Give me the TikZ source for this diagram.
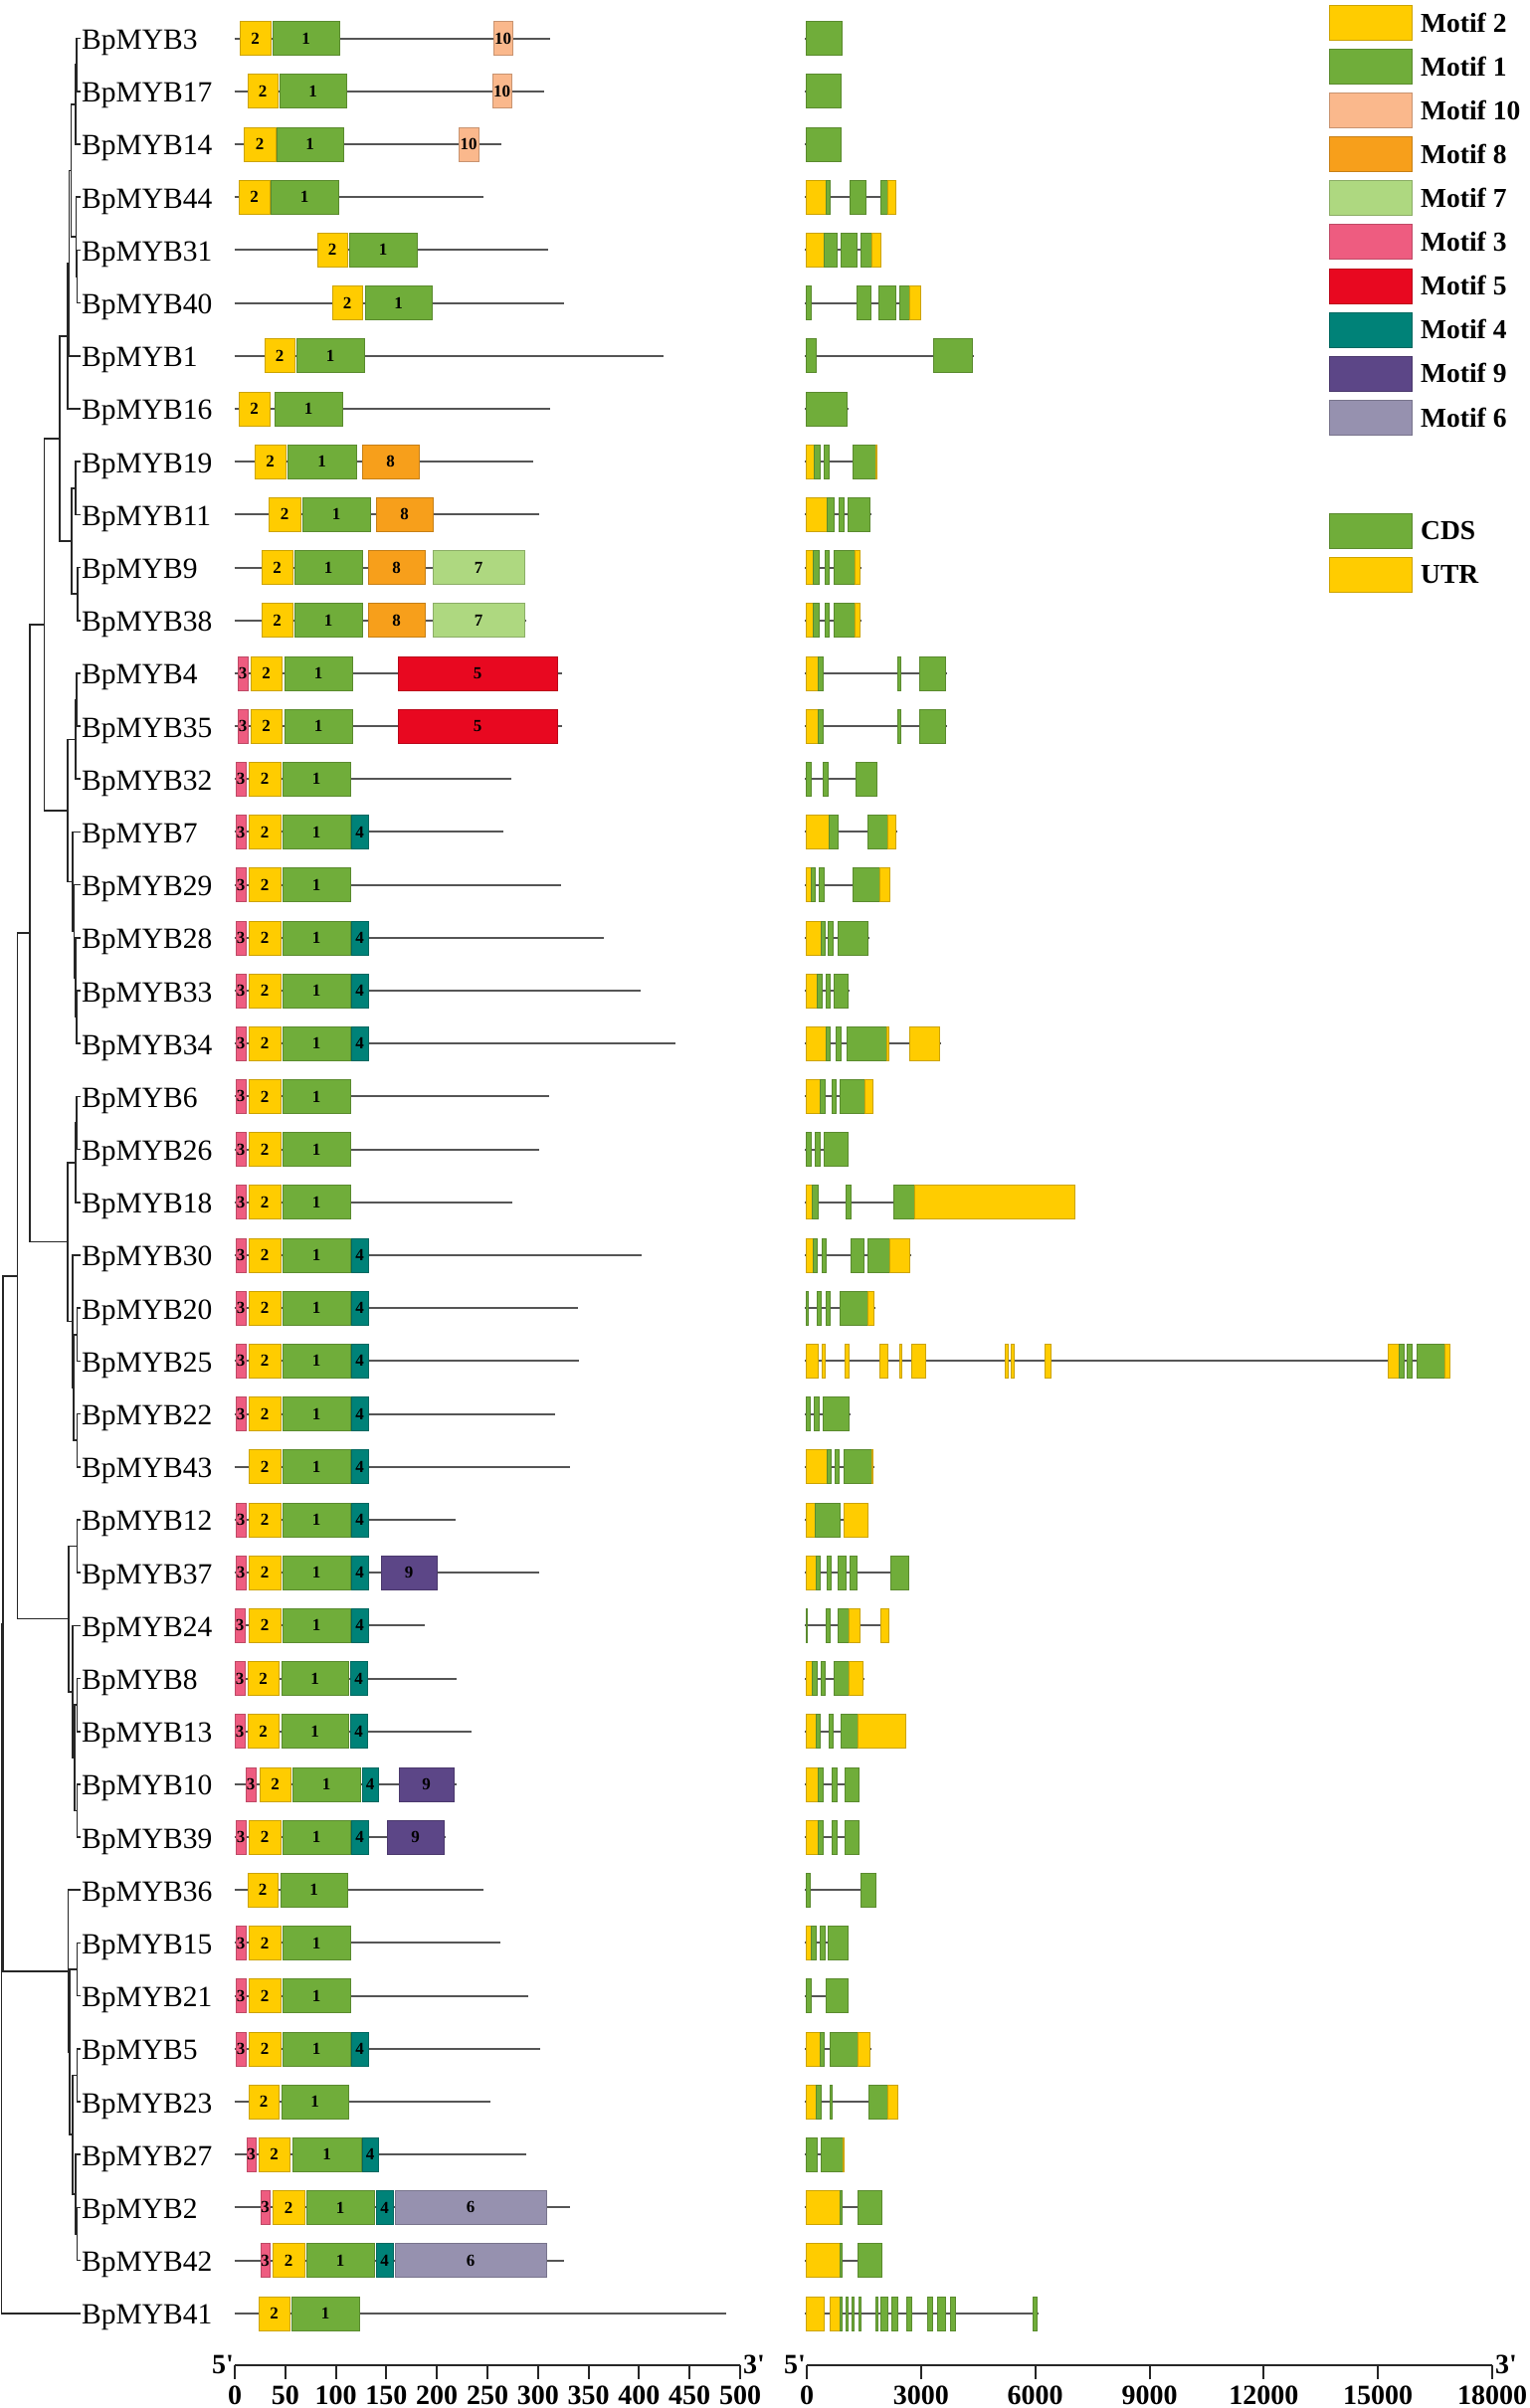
\documentclass[tikz,border=0pt]{standalone}
\usepackage{fontspec}
\setmainfont{Liberation Serif}
\newfontfamily\rawserif[Ligatures=TeXOff]{Liberation Serif}
\usetikzlibrary{calc}
\definecolor{mA}{RGB}{255,204,0}
\definecolor{mB}{RGB}{112,173,58}
\definecolor{mTen}{RGB}{250,184,140}
\definecolor{mEight}{RGB}{247,159,27}
\definecolor{mSeven}{RGB}{174,216,128}
\definecolor{mThree}{RGB}{238,92,128}
\definecolor{mFive}{RGB}{232,8,32}
\definecolor{mFour}{RGB}{0,130,120}
\definecolor{mNine}{RGB}{92,70,135}
\definecolor{mSix}{RGB}{150,145,175}
\colorlet{cds}{mB}
\colorlet{utr}{mA}
\definecolor{gl}{RGB}{85,85,85}
\tikzset{
  gline/.style={draw=gl, line width=2pt},
  tree/.style={draw=black!85, line width=1.6pt},
  boxst/.style={line width=0.6pt},
  lbl/.style={anchor=base west, inner sep=0pt, font=\fontsize{29.5}{30}\selectfont},
  num/.style={inner sep=0pt, font=\bfseries\fontsize{17}{17}\selectfont},
  axlbl/.style={inner sep=0pt, font=\rawserif\bfseries\fontsize{28}{28}\selectfont},
  leg/.style={anchor=west, inner sep=0pt, font=\bfseries\fontsize{27.5}{28}\selectfont},
  axline/.style={draw=black!85, line width=2pt},
}
\newcommand\prot[4]{%
  \pgfmathsetmacro\yy{38.6+53.19*#1}
  \coordinate (L#1) at (81,\yy);
  \node[lbl] (n#2) at ({82},{\yy+11}) {#2};
  \draw[gline] (235.5,\yy) -- (#3,\yy);
  \foreach \s/\e/\c/\t [count=\k] in {#4} {
    \draw[boxst, fill=\c, draw=\c!80!black] (\s,{\yy-17}) rectangle (\e,{\yy+17});
    \node[num] (m#1x\k) at ({(\s+\e)/2},\yy) {\t};
  }
}
\newcommand\gstr[3]{%
  \pgfmathsetmacro\yy{38.6+53.19*#1}
  \draw[gline] (809,\yy) -- (#2,\yy);
  \foreach \s/\e/\c in {#3} {
    \draw[boxst, fill=\c, draw=\c!80!black] (\s,{\yy-17}) rectangle (\e,{\yy+17});
  }
}
\newcommand\tn[4]{%
  \coordinate (tmp) at ($(#3)!0.5!(#4)$);
  \coordinate (#1) at (#2,0 |- tmp);
  \draw[tree] (#3) -| (#1) |- (#4);
}
\begin{document}
\begin{tikzpicture}[x=1pt,y=-1pt]
\useasboundingbox (0,0) rectangle (1538,2421);
\fill[white] (0,0) rectangle (1538,2421);

% ---------- protein motifs ----------
\prot{0}{BpMYB3}{553}{241/272/mA/2, 274/341/mB/1, 496/515/mTen/10}
\prot{1}{BpMYB17}{547}{249/279/mA/2, 281/348/mB/1, 495/514/mTen/10}
\prot{2}{BpMYB14}{504}{245/277/mA/2, 278/345/mB/1, 461/481/mTen/10}
\prot{3}{BpMYB44}{486}{240/271/mA/2, 272/340/mB/1}
\prot{4}{BpMYB31}{551}{319/349/mA/2, 351/419/mB/1}
\prot{5}{BpMYB40}{567}{334/364/mA/2, 367/434/mB/1}
\prot{6}{BpMYB1}{667}{266/296/mA/2, 298/366/mB/1}
\prot{7}{BpMYB16}{553}{240/271/mA/2, 276/344/mB/1}
\prot{8}{BpMYB19}{536}{256/287/mA/2, 289/358/mB/1, 364/421/mEight/8}
\prot{9}{BpMYB11}{542}{270/302/mA/2, 304/372/mB/1, 378/435/mEight/8}
\prot{10}{BpMYB9}{528}{263/294/mA/2, 296/364/mB/1, 370/427/mEight/8, 435/527/mSeven/7}
\prot{11}{BpMYB38}{529}{263/294/mA/2, 296/364/mB/1, 370/427/mEight/8, 435/527/mSeven/7}
\prot{12}{BpMYB4}{565}{239/249/mThree/3, 252/283/mA/2, 286/354/mB/1, 400/560/mFive/5}
\prot{13}{BpMYB35}{565}{239/249/mThree/3, 252/283/mA/2, 286/354/mB/1, 400/560/mFive/5}
\prot{14}{BpMYB32}{514}{237/247/mThree/3, 250/282/mA/2, 284/352/mB/1}
\prot{15}{BpMYB7}{506}{237/247/mThree/3, 250/282/mA/2, 284/352/mB/1, 353/370/mFour/4}
\prot{16}{BpMYB29}{564}{237/247/mThree/3, 250/282/mA/2, 284/352/mB/1}
\prot{17}{BpMYB28}{607}{237/247/mThree/3, 250/282/mA/2, 284/352/mB/1, 353/370/mFour/4}
\prot{18}{BpMYB33}{644}{237/247/mThree/3, 250/282/mA/2, 284/352/mB/1, 353/370/mFour/4}
\prot{19}{BpMYB34}{679}{237/247/mThree/3, 250/282/mA/2, 284/352/mB/1, 353/370/mFour/4}
\prot{20}{BpMYB6}{552}{237/247/mThree/3, 250/282/mA/2, 284/352/mB/1}
\prot{21}{BpMYB26}{542}{237/247/mThree/3, 250/282/mA/2, 284/352/mB/1}
\prot{22}{BpMYB18}{515}{237/247/mThree/3, 250/282/mA/2, 284/352/mB/1}
\prot{23}{BpMYB30}{645}{237/247/mThree/3, 250/282/mA/2, 284/352/mB/1, 353/370/mFour/4}
\prot{24}{BpMYB20}{581}{237/247/mThree/3, 250/282/mA/2, 284/352/mB/1, 353/370/mFour/4}
\prot{25}{BpMYB25}{582}{237/247/mThree/3, 250/282/mA/2, 284/352/mB/1, 353/370/mFour/4}
\prot{26}{BpMYB22}{558}{237/247/mThree/3, 250/282/mA/2, 284/352/mB/1, 353/370/mFour/4}
\prot{27}{BpMYB43}{573}{250/282/mA/2, 284/352/mB/1, 353/370/mFour/4}
\prot{28}{BpMYB12}{458}{237/247/mThree/3, 250/282/mA/2, 284/352/mB/1, 353/370/mFour/4}
\prot{29}{BpMYB37}{542}{237/247/mThree/3, 250/282/mA/2, 284/352/mB/1, 353/370/mFour/4, 383/439/mNine/9}
\prot{30}{BpMYB24}{427}{236/246/mThree/3, 250/282/mA/2, 284/352/mB/1, 353/370/mFour/4}
\prot{31}{BpMYB8}{459}{236/246/mThree/3, 249/280/mA/2, 283/350/mB/1, 352/369/mFour/4}
\prot{32}{BpMYB13}{474}{236/246/mThree/3, 249/280/mA/2, 283/350/mB/1, 352/369/mFour/4}
\prot{33}{BpMYB10}{459}{247/257/mThree/3, 261/292/mA/2, 294/362/mB/1, 364/380/mFour/4, 401/456/mNine/9}
\prot{34}{BpMYB39}{448}{237/247/mThree/3, 250/282/mA/2, 284/352/mB/1, 353/370/mFour/4, 389/446/mNine/9}
\prot{35}{BpMYB36}{486}{249/279/mA/2, 282/349/mB/1}
\prot{36}{BpMYB15}{503}{237/247/mThree/3, 250/282/mA/2, 284/352/mB/1}
\prot{37}{BpMYB21}{531}{237/247/mThree/3, 250/282/mA/2, 284/352/mB/1}
\prot{38}{BpMYB5}{543}{237/247/mThree/3, 250/282/mA/2, 284/352/mB/1, 353/370/mFour/4}
\prot{39}{BpMYB23}{493}{250/280/mA/2, 283/350/mB/1}
\prot{40}{BpMYB27}{529}{248/257/mThree/3, 260/291/mA/2, 294/363/mB/1, 364/380/mFour/4}
\prot{41}{BpMYB2}{573}{262/271/mThree/3, 274/306/mA/2, 308/376/mB/1, 378/395/mFour/4, 397/549/mSix/6}
\prot{42}{BpMYB42}{567}{262/271/mThree/3, 274/306/mA/2, 308/376/mB/1, 378/395/mFour/4, 397/549/mSix/6}
\prot{43}{BpMYB41}{730}{260/291/mA/2, 293/361/mB/1}

% ---------- gene structures ----------
\gstr{0}{847}{810.7/846/cds}
\gstr{1}{846}{810.7/845.3/cds}
\gstr{2}{846}{810.7/845.3/cds}
\gstr{3}{901}{810.7/830.3/utr, 830.3/834.3/cds, 854/870/cds, 885.7/892/cds, 892/900/utr}
\gstr{4}{886}{810.7/828.7/utr, 828.7/841.3/cds, 845/861/cds, 865.3/876/cds, 876/885/utr}
\gstr{5}{926}{810.7/815/cds, 861/875.3/cds, 883.3/900.3/cds, 904.7/914.3/cds, 914.3/925/utr}
\gstr{6}{979}{810.7/820/cds, 938.7/977.7/cds}
\gstr{7}{852.5}{810.7/851.7/cds}
\gstr{8}{882}{810.7/818.7/utr, 818.7/824.7/cds, 828.3/833/cds, 857.3/880.3/cds, 880.3/881.3/utr}
\gstr{9}{876}{810.7/831.7/utr, 831.7/838.7/cds, 843.7/848.3/cds, 852.3/874.3/cds}
\gstr{10}{865.5}{810.7/817.3/utr, 817.3/823/cds, 829.3/833.7/cds, 838.3/859.3/cds, 859.3/864/utr}
\gstr{11}{865.5}{810.7/817.3/utr, 817.3/823/cds, 829.3/833.7/cds, 838.3/859.3/cds, 859.3/864/utr}
\gstr{12}{951.5}{810.7/822.7/utr, 822.7/827.3/cds, 902/905.3/cds, 924.3/950.3/cds}
\gstr{13}{951.5}{810.7/822.7/utr, 822.7/827.3/cds, 902/905.3/cds, 924.3/950.3/cds}
\gstr{14}{882}{810.7/815/cds, 827.3/832/cds, 860.3/881/cds}
\gstr{15}{901.5}{810.7/833/utr, 833/842.3/cds, 872/892/cds, 892/900.7/utr}
\gstr{16}{895}{810.7/815/utr, 815/819.3/cds, 823.7/828/cds, 857.3/884/cds, 884/894/utr}
\gstr{17}{873.5}{810.7/825/utr, 825/829/cds, 832.7/837.3/cds, 842/872.7/cds}
\gstr{18}{853.5}{810.7/821/utr, 821.3/826/cds, 830/834.7/cds, 838.7/852.7/cds}
\gstr{19}{945.5}{810.7/830/utr, 830/834.7/cds, 840.3/845/cds, 851/891/cds, 891/893/utr, 914/944.7/utr}
\gstr{20}{878}{810.7/824.3/utr, 824.3/829/cds, 836/840.7/cds, 844.3/869.7/cds, 869.7/877/utr}
\gstr{21}{853}{810.7/815/cds, 819.3/824.3/cds, 828/852/cds}
\gstr{22}{1081}{810.7/816/utr, 816/822.3/cds, 850.7/855.3/cds, 898/919/cds, 919/1080.3/utr}
\gstr{23}{915.5}{810.7/817/utr, 817/821.7/cds, 826/830.7/cds, 855.7/868.3/cds, 872/894.3/cds, 894.3/914.7/utr}
\gstr{24}{879.5}{810.7/812.3/cds, 821.7/825.7/cds, 830/834.3/cds, 844.3/872.3/cds, 872.3/878.7/utr}
\gstr{25}{1458}{810.5/822/utr, 826/829.7/utr, 849.4/853/utr, 884.2/892.2/utr, 903.8/906/utr, 916.5/930.2/utr, 1010.5/1013/utr, 1016.5/1019/utr, 1050/1056.5/utr, 1395.4/1406/utr, 1406/1411/cds, 1414.6/1419.5/cds, 1424/1452.5/cds, 1452.5/1457.4/utr}
\gstr{26}{854.5}{810.7/814.7/cds, 818.7/823.3/cds, 827.7/853.7/cds}
\gstr{27}{878.5}{810.7/831/utr, 831/835.7/cds, 839.3/843.7/cds, 848/876/cds, 876/877.7/utr}
\gstr{28}{873}{810.7/819/utr, 819/844/cds, 848.3/872/utr}
\gstr{29}{914}{810.7/820.3/utr, 820.3/824.7/cds, 831.3/835.7/cds, 842.7/850.7/cds, 854/861.3/cds, 895.3/913/cds}
\gstr{30}{894}{810.7/811.7/cds, 830/834.3/cds, 842/853.3/cds, 853.3/864.7/utr, 885.7/893/utr}
\gstr{31}{868.5}{810.7/816.7/utr, 816.7/821.3/cds, 825.3/829.7/cds, 838/853/cds, 853/867.7/utr}
\gstr{32}{911}{810.7/820/utr, 820/824.7/cds, 833/837.7/cds, 845/862.3/cds, 862.3/910/utr}
\gstr{33}{864}{810.7/822.7/utr, 822.7/827.3/cds, 836.3/841/cds, 849.7/863/cds}
\gstr{34}{864}{810.7/822.7/utr, 822.7/827.3/cds, 836.3/841/cds, 849.7/863/cds}
\gstr{35}{881}{810.7/814/cds, 865.3/880.3/cds}
\gstr{36}{853}{810.7/815.7/utr, 815.7/820.3/cds, 824.3/829/cds, 832.7/852.3/cds}
\gstr{37}{853}{810.7/815/cds, 830.7/852.3/cds}
\gstr{38}{875.5}{810.7/824.3/utr, 824.3/828.7/cds, 834/862.7/cds, 862.7/874.7/utr}
\gstr{39}{903}{810.7/820.7/utr, 820.7/825.3/cds, 834/836/cds, 873.7/892.3/cds, 892.3/902/utr}
\gstr{40}{848.5}{810.7/821.3/cds, 825/847/cds, 847/848/utr}
\gstr{41}{887}{810.7/844/utr, 844/846.7/cds, 862/886.3/cds}
\gstr{42}{887}{810.7/844/utr, 844/846.7/cds, 862/886.3/cds}
\gstr{43}{1044}{810.7/828/utr, 834/844/utr, 844/846/cds, 850/852/cds, 856.3/858.3/cds, 863.3/865.7/cds, 880/882/cds, 885.7/892/cds, 896/902.7/cds, 911.3/916.7/cds, 932.3/937.3/cds, 942.7/950/cds, 955/960/cds, 1038/1042.3/cds}

% ---------- tree ----------
\tn{ta}{77}{L0}{L1}
\tn{tb}{76}{ta}{L2}
\tn{tca}{77.5}{L4}{L5}
\tn{tc}{76.5}{L3}{tca}
\tn{td}{71.4}{tb}{tc}
\tn{tea}{69.6}{td}{L6}
\tn{te}{67.9}{tea}{L7}
\tn{tga}{76}{L8}{L9}
\tn{tgb}{78}{L10}{L11}
\tn{tg}{72}{tga}{tgb}
\tn{tf}{60}{te}{tg}
\tn{ca}{77}{L12}{L13}
\tn{cb}{76}{ca}{L14}
\tn{cc}{77}{L18}{L19}
\tn{cd}{76}{L17}{cc}
\tn{ce}{74.5}{L16}{cd}
\tn{cf}{73}{L15}{ce}
\tn{cone}{68}{cb}{cf}
\tn{Nthree}{44.6}{tf}{cone}
\tn{da}{77}{L20}{L21}
\tn{db}{76}{da}{L22}
\tn{dc}{77.5}{L24}{L25}
\tn{dd}{77.5}{L26}{L27}
\tn{de}{74}{dc}{dd}
\tn{df}{73.2}{L23}{de}
\tn{ctwo}{68}{db}{df}
\tn{Ntwo}{30}{Nthree}{ctwo}
\tn{ea}{77.5}{L28}{L29}
\tn{eb}{77.5}{L31}{L32}
\tn{ec}{77.5}{L33}{L34}
\tn{ed}{75}{eb}{ec}
\tn{ee}{73.2}{L30}{ed}
\tn{cthree}{68.9}{ea}{ee}
\tn{None}{17.5}{Ntwo}{cthree}
\tn{fa}{77.3}{L36}{L37}
\tn{fc}{77.3}{L38}{L39}
\tn{fd}{77.3}{L41}{L42}
\tn{fe}{76}{L40}{fd}
\tn{fy}{72.7}{fc}{fe}
\tn{fx}{70}{fa}{fy}
\tn{cfour}{68.3}{L35}{fx}
\tn{Nzero}{3}{None}{cfour}
\tn{root}{1.5}{Nzero}{L43}

% ---------- axes ----------
\draw[axline] (236,2378) -- (744,2378);
\foreach \v [count=\k] in {0,50,...,500} {
  \draw[axline] ({236+\v*1.016},2378) -- ({236+\v*1.016},2392);
  \node[axlbl] (ax\k) at ({236+\v*1.016},2408) {\v};
}
\node[axlbl, anchor=east] (a5) at (235,2377) {5'};
\node[axlbl, anchor=west] (a3) at (747,2377) {3'};
\draw[axline] (811,2378) -- (1500,2378);
\foreach \v/\lab [count=\k] in {0/0,3/3000,6/6000,9/9000,12/12000,15/15000,18/18000} {
  \draw[axline] ({811+\v*38.28},2378) -- ({811+\v*38.28},2392);
  \node[axlbl] (bx\k) at ({811+\v*38.28},2408) {\lab};
}
\node[axlbl, anchor=east] (b5) at (810,2377) {5'};
\node[axlbl, anchor=west] (b3) at (1503,2377) {3'};

% ---------- legend ----------
\foreach \c/\t [count=\k from 0] in {mA/Motif 2, mB/Motif 1, mTen/Motif 10, mEight/Motif 8, mSeven/Motif 7, mThree/Motif 3, mFive/Motif 5, mFour/Motif 4, mNine/Motif 9, mSix/Motif 6} {
  \draw[boxst, fill=\c, draw=\c!80!black] (1336,{5.5+44.05*\k}) rectangle (1419,{40.5+44.05*\k});
  \node[leg] (lg\k) at (1428,{23+44.05*\k}) {\t};
}
\draw[boxst, fill=cds, draw=cds!80!black] (1336,516.5) rectangle (1419,551);
\node[leg] (lgcds) at (1428,533.7) {CDS};
\draw[boxst, fill=utr, draw=utr!80!black] (1336,560) rectangle (1419,595);
\node[leg] (lgutr) at (1428,577.5) {UTR};
\end{tikzpicture}
\end{document}
